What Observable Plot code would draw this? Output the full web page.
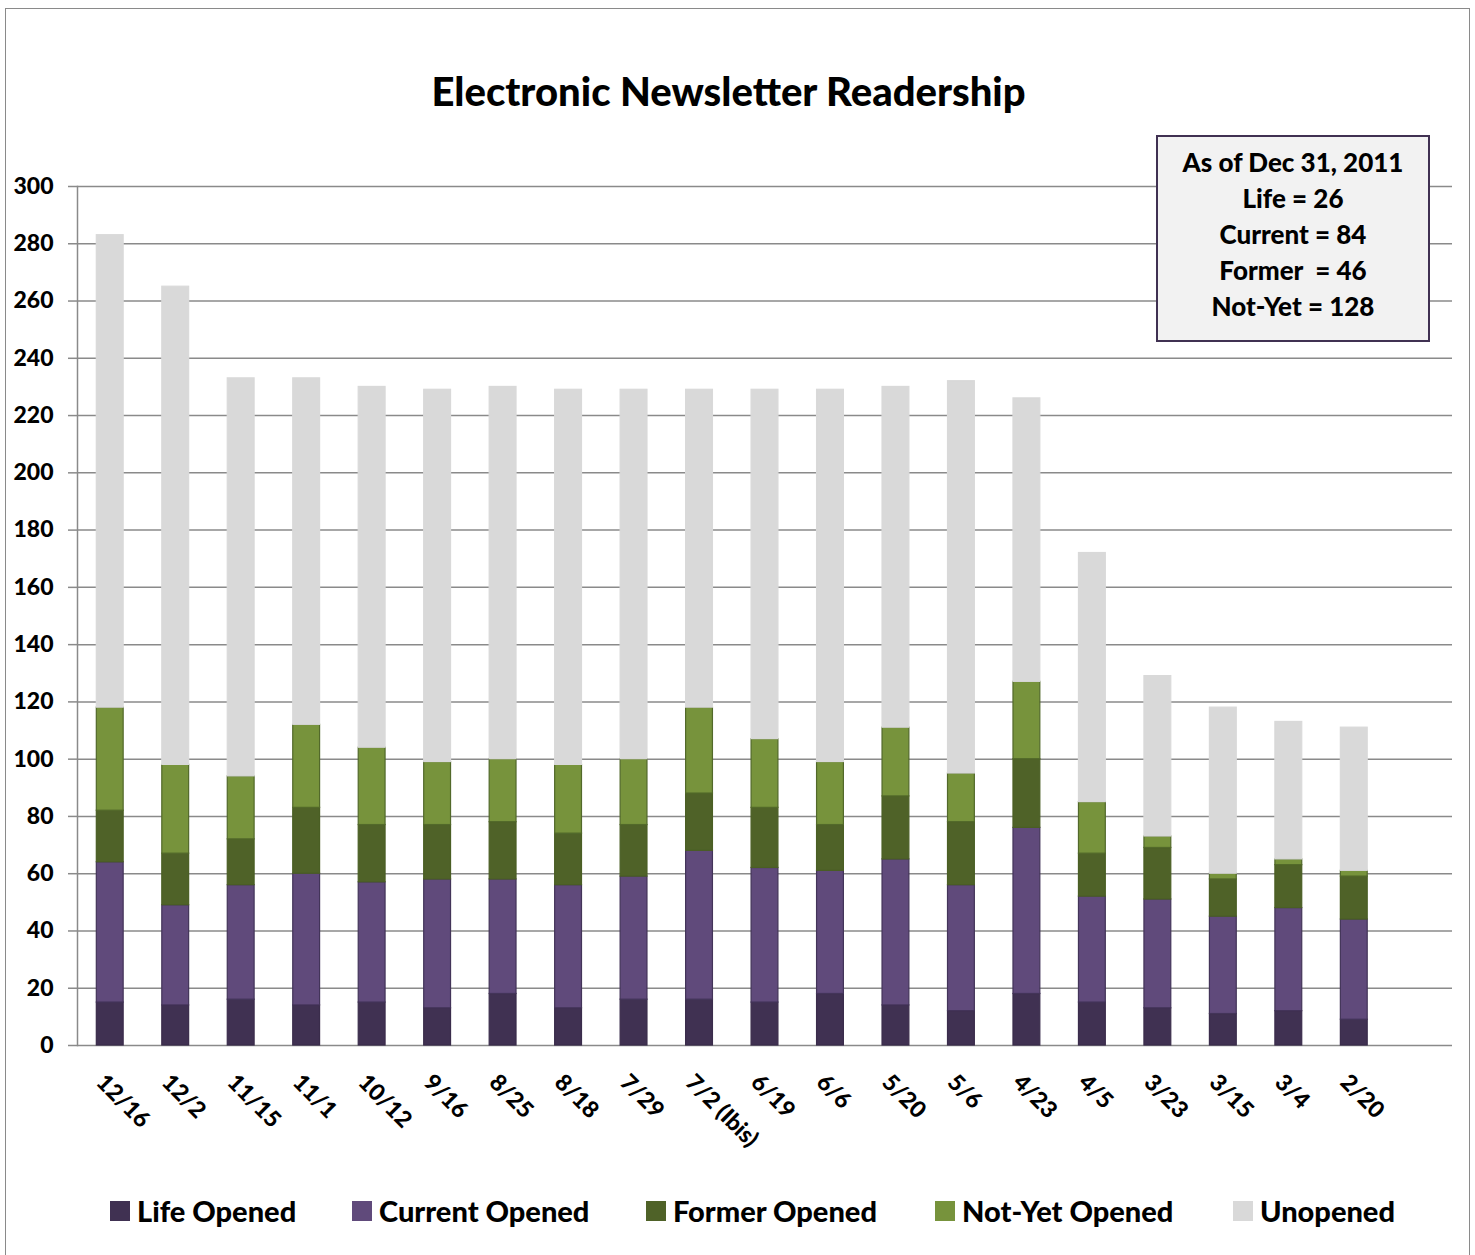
<!DOCTYPE html>
<html>
<head>
<meta charset="utf-8">
<script src="https://cdn.jsdelivr.net/npm/d3@7"></script>
<script src="https://cdn.jsdelivr.net/npm/@observablehq/plot@0.6"></script>
<style>
  html, body { margin: 0; padding: 0; background: #fff; }
  #wrap { position: relative; width: 1475px; height: 1255px; overflow: hidden; background: #fff; font-family: Lato, "Open Sans", sans-serif; }
  #border { position: absolute; left: 5px; top: 8px; width: 1465px; height: 1300px; border: 1.5px solid #8a8a8a; box-sizing: border-box; }
  #title { position: absolute; left: 0; width: 1457px; top: 71px; text-align: center; font-weight: 900; font-size: 40px; line-height: 1; color: #000; }
  #chart { position: absolute; left: 0; top: 0; }
  #note { position: absolute; left: 1156px; top: 135px; width: 274px; height: 207px; box-sizing: border-box; border: 2px solid #403152; background: #f2f2f2; text-align: center; font-weight: 900; font-size: 26px; line-height: 36px; padding-top: 7px; white-space: pre; color: #000; }
  .leg { position: absolute; top: 1196px; display: flex; align-items: center; font-weight: 900; font-size: 29px; line-height: 30px; color: #000; white-space: nowrap; }
  .leg .sw { width: 20px; height: 20px; margin-right: 7px; }
</style>
</head>
<body>
<div id="wrap">
  <div id="border"></div>
  <div id="title"></div>
  <div id="chart"></div>
  <div id="note"></div>
</div>
<script>
// ---- data ----
const categories = ["12/16","12/2","11/15","11/1","10/12","9/16","8/25","8/18","7/29","7/2 (Ibis)","6/19","6/6","5/20","5/6","4/23","4/5","3/23","3/15","3/4","2/20"];
const lifeOpened    = [15,14,16,14,15,13,18,13,16,16,15,18,14,12,18,15,13,11,12,9];
const currentOpened = [49,35,40,46,42,45,40,43,43,52,47,43,51,44,58,37,38,34,36,35];
const formerOpened  = [18,18,16,23,20,19,20,18,18,20,21,16,22,22,24,15,18,13,15,15];
const notYetOpened  = [36,31,22,29,27,22,22,24,23,30,24,22,24,17,27,18,4,2,2,2];
const unopened      = [165,167,139,121,126,130,130,131,129,111,122,130,119,137,99,87,56,58,48,50];
const seriesNames = ["Life Opened","Current Opened","Former Opened","Not-Yet Opened","Unopened"];
const seriesFill   = ["#403152","#604a7b","#4f6228","#77933c","#d9d9d9"];
const seriesStroke = ["#3a2c4b","#433459","#4a5e24","#52692a","#d9d9d9"];
const yTicks = d3.range(0, 301, 20);
const titleText = "Electronic Newsletter Readership";
const noteLines = ["As of Dec 31, 2011","Life = 26","Current = 84","Former  = 46","Not-Yet = 128"];

// ---- build tidy table ----
const seriesValues = [lifeOpened, currentOpened, formerOpened, notYetOpened, unopened];
const rows = [];
seriesValues.forEach((vals, si) => {
  vals.forEach((v, i) => rows.push({date: categories[i], series: seriesNames[si], value: v,
    fill: seriesFill[si], stroke: seriesStroke[si]}));
});

const chart = Plot.plot({
  width: 1475,
  height: 1170,
  marginLeft: 77,
  marginRight: 23,
  marginTop: 186,
  marginBottom: 125,
  style: {fontFamily: "Lato, 'Open Sans', sans-serif", color: "#000", background: "transparent"},
  x: {domain: [...categories, ""], paddingInner: 0.59, paddingOuter: 0.295, round: false, axis: null},
  y: {domain: [0, 300], axis: null},
  color: {type: "identity"},
  marks: [
    Plot.gridY(yTicks, {stroke: "#8a8a8a", strokeOpacity: 1, strokeWidth: 1.5}),
    Plot.barY(rows, Plot.stackY({x: "date", y: "value", z: "series", order: seriesNames,
      fill: "fill", stroke: "stroke", strokeWidth: 1.2, inset: 0})),
    Plot.frame({anchor: "left", stroke: "#8a8a8a", strokeWidth: 1.5}),
    Plot.axisY({ticks: yTicks, tickSize: 9, tickPadding: 15, stroke: "#8a8a8a", strokeWidth: 1.5,
      fontSize: 23, fontWeight: 900, fill: "#000", label: null}),
    Plot.text(categories, {x: d => d, frameAnchor: "bottom", rotate: 45, textAnchor: "start",
      lineAnchor: "middle", dx: -10, dy: 33, fontSize: 23, fontWeight: 900, fill: "#000"})
  ]
});
document.getElementById("chart").appendChild(chart);
document.getElementById("title").textContent = titleText;
document.getElementById("note").textContent = noteLines.join("\n");

// legend
const legendX = [110, 352, 646, 935, 1233];
const wrap = document.getElementById("wrap");
seriesNames.forEach((name, i) => {
  const item = document.createElement("div");
  item.className = "leg";
  item.style.left = legendX[i] + "px";
  const sw = document.createElement("span");
  sw.className = "sw";
  sw.style.background = seriesFill[i];
  const t = document.createElement("span");
  t.textContent = name;
  item.appendChild(sw); item.appendChild(t);
  wrap.appendChild(item);
});
</script>
</body>
</html>
